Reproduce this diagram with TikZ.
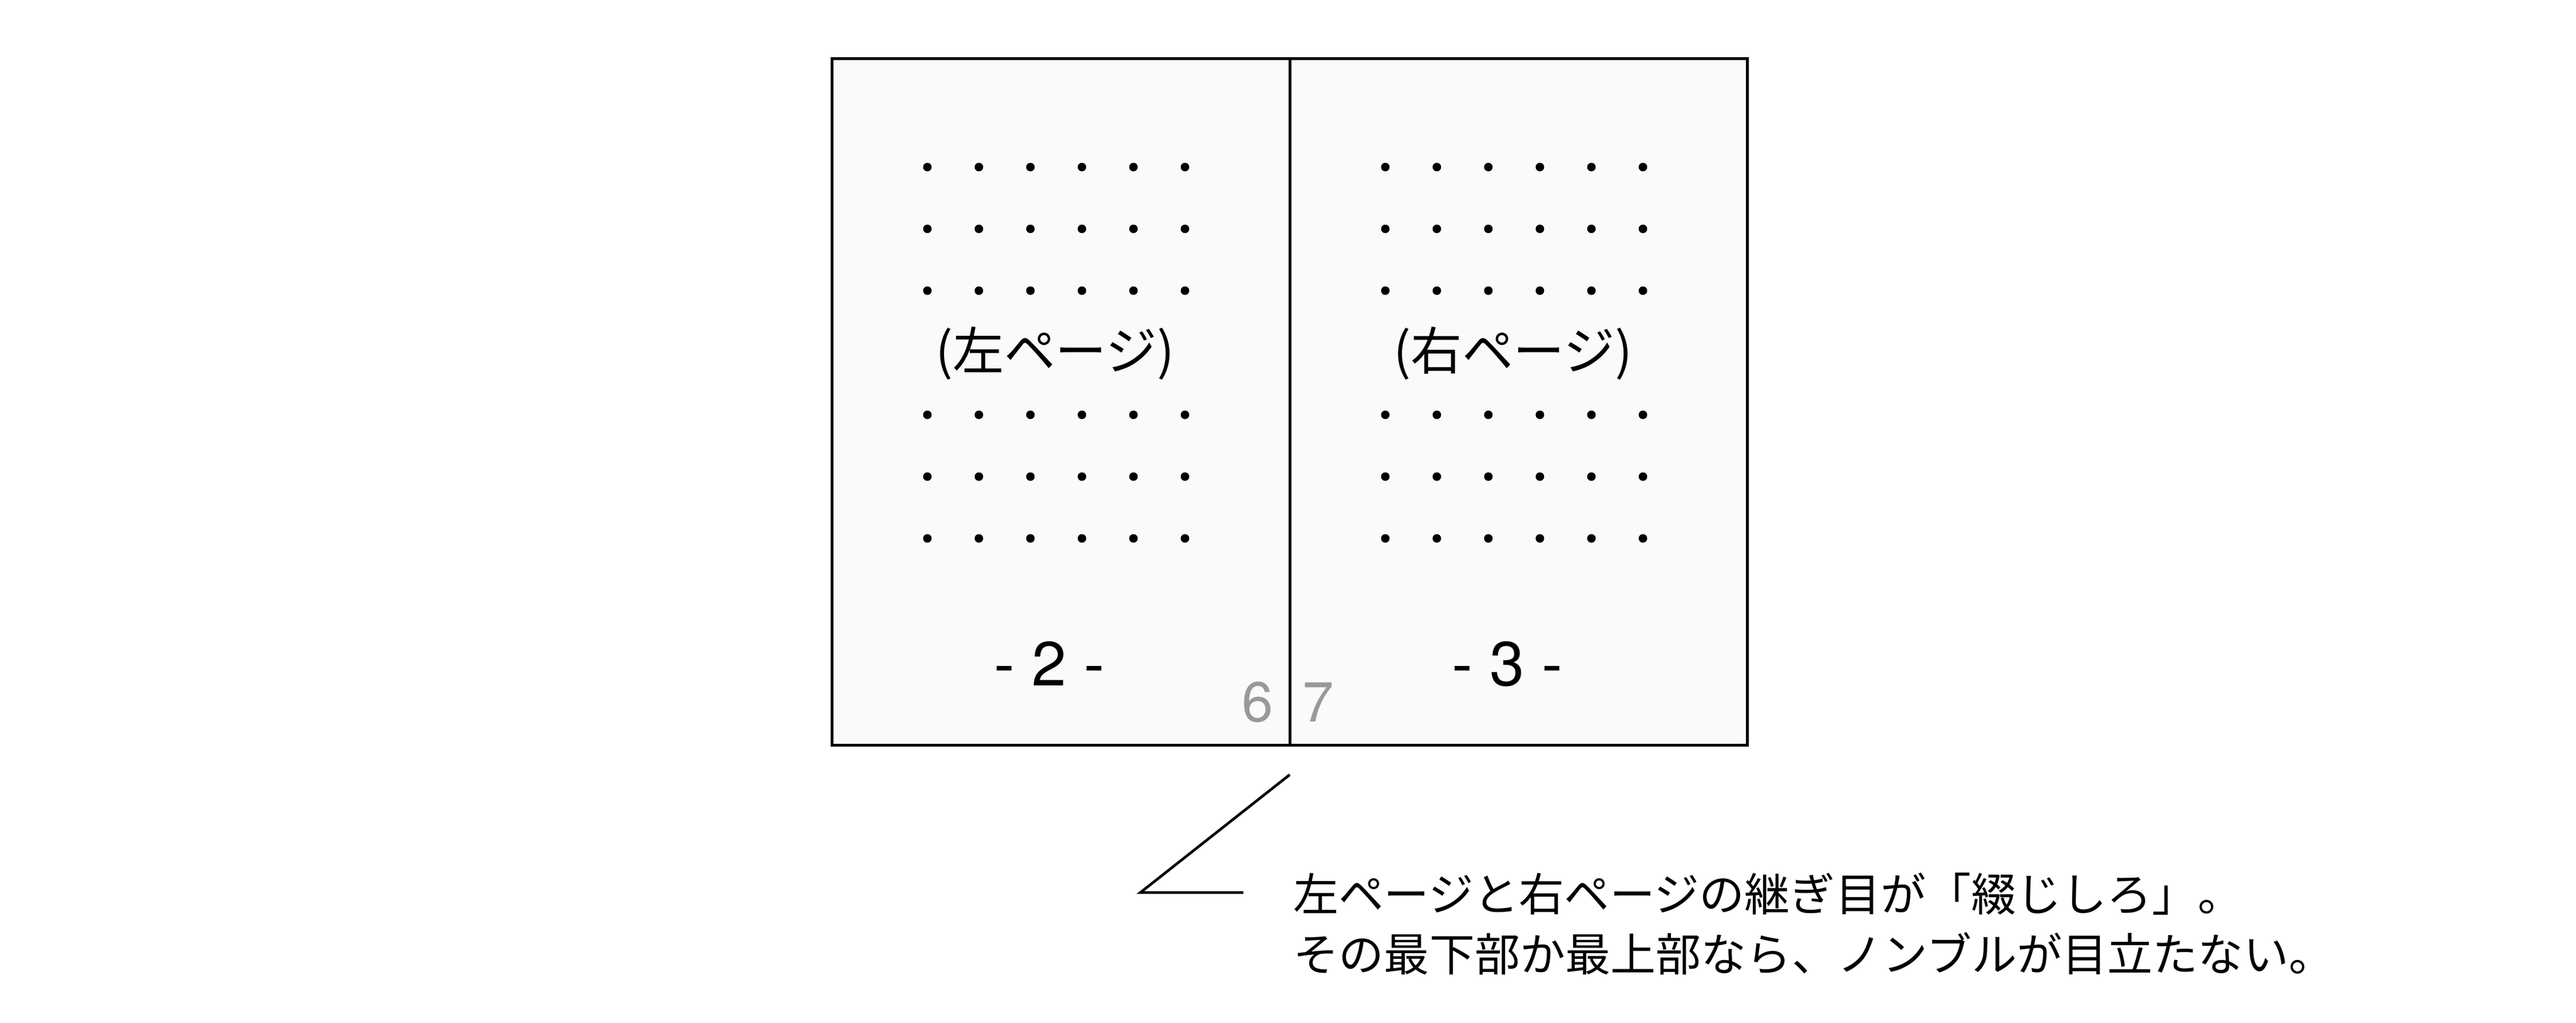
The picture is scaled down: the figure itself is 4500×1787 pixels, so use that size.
\documentclass[tikz,border=0pt]{standalone}
\usepackage{fontspec}
\setmainfont{TeX Gyre Heros}
\newfontfamily\jpfont{Noto Sans CJK JP}
\usetikzlibrary{positioning}
\definecolor{pagefill}{HTML}{FAFAFA}
\definecolor{foliogray}{HTML}{999999}

\begin{document}
\begin{tikzpicture}[x=0.01cm, y=-0.01cm,
  page/.style={draw=black, line width=0.05cm, fill=pagefill},
  title node/.style={font=\jpfont\fontsize{25.5}{30}\selectfont, inner sep=0pt},
  number node/.style={font=\fontsize{31}{36}\selectfont, inner sep=0pt, anchor=base},
  folio node/.style={font=\fontsize{28}{32}\selectfont, text=foliogray, inner sep=0pt, anchor=base},
  note node/.style={font=\jpfont\fontsize{22.5}{29.6}\selectfont, align=left, inner sep=0pt, anchor=base west},
  leader/.style={draw=black, line width=0.046cm}]
\useasboundingbox (0,0) rectangle (4500,1787);
% spread
\draw[page] (1453,102) rectangle (2253,1302);
\draw[page] (2253,102) rectangle (3052,1302);
% text lines
\foreach \y in {292,400,508,725,833,941}{
  \foreach \x in {1620,1710,...,2070} \fill (\x,\y) circle[radius=0.075cm];
  \foreach \x in {2420,2510,...,2870} \fill (\x,\y) circle[radius=0.075cm];
}
\node[title node] (lefttitle) at (1843,618) {(左ページ)};
\node[title node] (righttitle) at (2643,618) {(右ページ)};
\node[number node] (leftnum) at (1833,1198) {- 2 -};
\node[number node] (rightnum) at (2633,1198) {- 3 -};
\node[folio node] (folio6) at (2197,1261) {6};
\node[folio node] (folio7) at (2303,1261) {7};
% note
\node[note node] (note) at (2259,1697) {左ページと右ページの継ぎ目が「綴じしろ」。\\その最下部か最上部なら、ノンブルが目立たない。};
\coordinate (seam) at (2253,1354);
\coordinate (bend) at (1992,1560);
\coordinate (tail) at (2172,1560);
\draw[leader] (seam) -- (bend) -- (tail);
\end{tikzpicture}
\end{document}
